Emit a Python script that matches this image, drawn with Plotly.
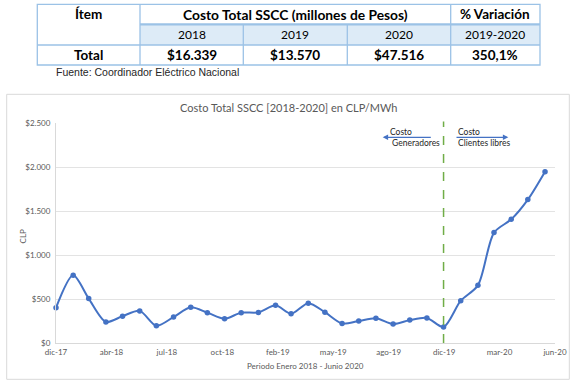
import plotly.graph_objects as go
import pandas as pd

# ---------------- data ----------------
fechas = [
    "2017-12-31", "2018-01-31", "2018-02-28", "2018-03-31", "2018-04-30", "2018-05-31",
    "2018-06-30", "2018-07-31", "2018-08-31", "2018-09-30", "2018-10-31", "2018-11-30",
    "2018-12-31", "2019-01-31", "2019-02-28", "2019-03-31", "2019-04-30", "2019-05-31",
    "2019-06-30", "2019-07-31", "2019-08-31", "2019-09-30", "2019-10-31", "2019-11-30",
    "2019-12-31", "2020-01-31", "2020-02-29", "2020-03-31", "2020-04-30", "2020-05-31",
]
costo_clp_mwh = [
    400, 770, 505, 240, 305, 365, 195, 295, 405, 345, 275, 345,
    348, 428, 332, 452, 350, 222, 250, 282, 216, 260, 285, 182,
    481, 655, 1255, 1405, 1630, 1947,
]
eje_x_etiquetas = ["dic-17", "abr-18", "jul-18", "oct-18", "feb-19",
                   "may-19", "ago-19", "dic-19", "mar-20", "jun-20"]
fecha_corte = "2019-11-30"

tabla_encabezados = ["Ítem", "Costo Total SSCC (millones de Pesos)", "% Variación"]
tabla_anios = ["2018", "2019", "2020", "2019-2020"]
tabla_total = ["Total", "$16.339", "$13.570", "$47.516", "350,1%"]
fuente = "Fuente: Coordinador Eléctrico Nacional"

titulo = "Costo Total SSCC [2018-2020] en CLP/MWh"
titulo_x = "Periodo Enero 2018 - Junio 2020"
titulo_y = "CLP"

# ---------------- layout helpers ----------------
W, H = 579, 387
L, R, T, B = 56, 24, 123, 44
PW, PH = W - L - R, H - T - B


def px(x):
    return (x - L) / PW


def py(y):
    return (H - B - y) / PH


FONT = "Lato, 'Open Sans', sans-serif"
GRAY = "#595959"
BLUE = "#4472C4"

inicio = pd.Timestamp(fechas[0])
tickvals = [(inicio + pd.Timedelta(days=100 * i)).strftime("%Y-%m-%d")
            for i in range(len(eje_x_etiquetas))]
fin = (inicio + pd.Timedelta(days=100 * (len(eje_x_etiquetas) - 1))).strftime("%Y-%m-%d")

fig = go.Figure()
fig.add_trace(go.Scatter(
    x=fechas, y=costo_clp_mwh, mode="lines+markers",
    line=dict(color=BLUE, width=2, shape="spline", smoothing=0.8),
    marker=dict(color=BLUE, size=5.5),
    cliponaxis=False, showlegend=False,
))

shapes = []
annotations = []

# chart outer frame
shapes.append(dict(type="rect", xref="paper", yref="paper",
                   x0=px(6.7), x1=px(569.3), y0=py(379.3), y1=py(94.3),
                   line=dict(color="#D9D9D9", width=1), fillcolor="rgba(0,0,0,0)", layer="below"))

# dashed divider
shapes.append(dict(type="line", xref="x", yref="paper",
                   x0=fecha_corte, x1=fecha_corte, y0=0, y1=py(121.5),
                   line=dict(color="#70AD47", width=1.5, dash="dash")))

# ---------------- table ----------------
cx = [37.3, 140, 243.3, 347.3, 450.7, 540]
ry = [4.3, 24.3, 45, 65]
BC = "#9BC2E6"

shapes.append(dict(type="rect", xref="paper", yref="paper",
                   x0=px(cx[1]), x1=px(cx[5]), y0=py(ry[2]), y1=py(ry[1]),
                   fillcolor="#DDEBF7", line=dict(width=0), layer="below"))
shapes.append(dict(type="rect", xref="paper", yref="paper",
                   x0=px(cx[0]), x1=px(cx[5]), y0=py(ry[3]), y1=py(ry[0]),
                   line=dict(color=BC, width=1.3), fillcolor="rgba(0,0,0,0)"))
for xv in (cx[1], cx[4]):
    shapes.append(dict(type="line", xref="paper", yref="paper",
                       x0=px(xv), x1=px(xv), y0=py(ry[0]), y1=py(ry[3]),
                       line=dict(color=BC, width=1.3)))
for xv in (cx[2], cx[3]):
    shapes.append(dict(type="line", xref="paper", yref="paper",
                       x0=px(xv), x1=px(xv), y0=py(ry[1]), y1=py(ry[3]),
                       line=dict(color=BC, width=1.3)))
shapes.append(dict(type="line", xref="paper", yref="paper",
                   x0=px(cx[1]), x1=px(cx[5]), y0=py(ry[1]), y1=py(ry[1]),
                   line=dict(color=BC, width=2.2)))
shapes.append(dict(type="line", xref="paper", yref="paper",
                   x0=px(cx[0]), x1=px(cx[5]), y0=py(ry[2]), y1=py(ry[2]),
                   line=dict(color=BC, width=1.3)))

TF = "Lato, Carlito, sans-serif"


def txt(x, y, s, size=13, bold=False, color="#000000", anchor="center", family=TF, angle=0):
    annotations.append(dict(
        xref="paper", yref="paper", x=px(x), y=py(y), text=f"<b>{s}</b>" if bold else s,
        showarrow=False, xanchor=anchor, yanchor="middle", textangle=angle,
        font=dict(family=family, size=size, color=color)))


txt((cx[0] + cx[1]) / 2, 14, tabla_encabezados[0], 13.5, True)
txt((cx[1] + cx[4]) / 2, 14, tabla_encabezados[1], 13.8, True)
txt((cx[4] + cx[5]) / 2, 14, tabla_encabezados[2], 13.5, True)
for i, a in enumerate(tabla_anios):
    txt((cx[i + 1] + cx[i + 2]) / 2, 34.7, a, 12)
for i, v in enumerate(tabla_total):
    txt((cx[i] + cx[i + 1]) / 2, 55, v, 13.5, True)
txt(54, 71.7, fuente, 10.5, False, "#262626", "left", "'Liberation Sans', Arial, sans-serif")

# ---------------- chart texts ----------------
txt(288.5, 107.3, titulo, 11, False, GRAY, "center", FONT)
txt(305.5, 365.5, titulo_x, 8, False, GRAY, "center", FONT)
txt(22.7, 236.7, titulo_y, 8, False, GRAY, "center", FONT, -90)

txt(388.3, 131.7, "Costo", 8.5, False, "#262626", "left", FONT)
txt(389.5, 143.3, "Generadores", 8.5, False, "#262626", "left", FONT)
txt(456, 131.7, "Costo", 8.5, False, "#262626", "left", FONT)
txt(456, 143.3, "Clientes libres", 8.5, False, "#262626", "left", FONT)

for head, tail in ((382.7, 432.3), (508.3, 455)):
    annotations.append(dict(
        xref="paper", yref="paper", x=px(head), y=py(137.3), ax=tail - head, ay=0,
        axref="pixel", ayref="pixel", text="", showarrow=True,
        arrowhead=2, arrowsize=0.9, arrowwidth=1.2, arrowcolor=BLUE))

fig.update_layout(
    width=W, height=H,
    margin=dict(l=L, r=R, t=T, b=B, autoexpand=False),
    paper_bgcolor="white", plot_bgcolor="white",
    separators=",.",
    font=dict(family=FONT, size=8, color=GRAY),
    shapes=shapes, annotations=annotations,
    xaxis=dict(type="date", range=[fechas[0], fin], tickvals=tickvals, ticktext=eje_x_etiquetas,
               showgrid=False, showline=True, linecolor="#D9D9D9", linewidth=1,
               ticks="", ticklabelstandoff=1, tickfont=dict(size=8, color=GRAY), zeroline=False),
    yaxis=dict(range=[0, 2500], dtick=500, tickprefix="$", tickformat=",d",
               showgrid=True, gridcolor="#E3E3E3", gridwidth=1,
               showline=True, linecolor="#D9D9D9", zeroline=False,
               ticks="", ticklabelstandoff=3, tickfont=dict(size=8, color=GRAY)),
)

fig.write_html("out.html", config={"displayModeBar": False},
               post_script="document.body.style.margin='0';document.body.style.overflow='hidden';")
